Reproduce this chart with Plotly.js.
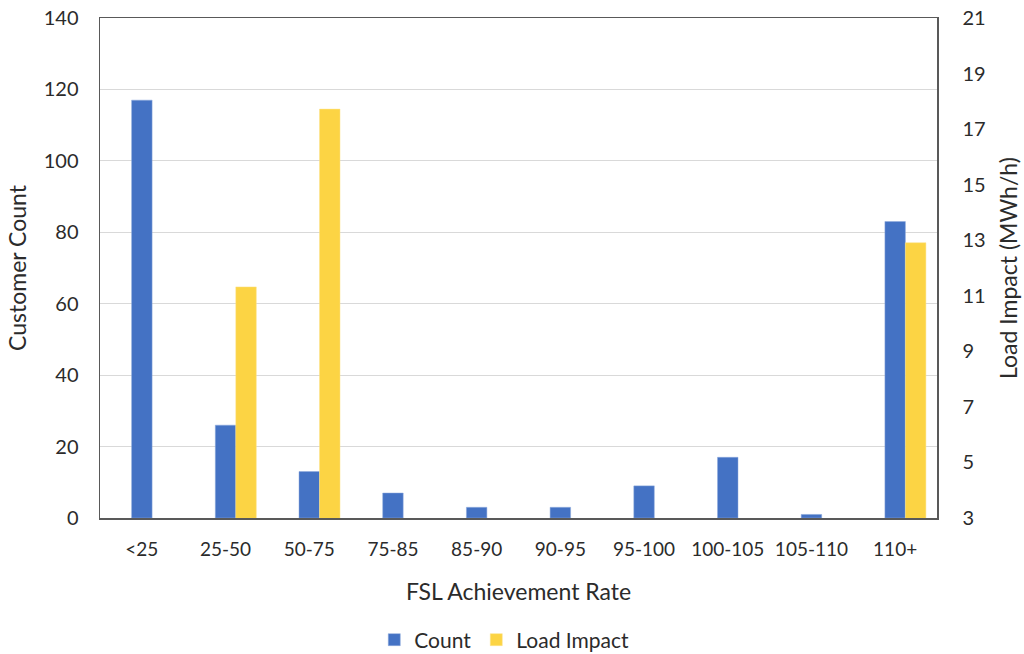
<!DOCTYPE html>
<html>
<head>
<meta charset="utf-8">
<script src="https://cdn.plot.ly/plotly-3.0.1.min.js"></script>
<style>html,body{margin:0;padding:0;background:#fff}#chart{width:1024px;height:654px}</style>
</head>
<body>
<div id="chart"></div>
<script>
const categories = ["<25","25-50","50-75","75-85","85-90","90-95","95-100","100-105","105-110","110+"];
const countValues = [117, 26, 13, 7, 3, 3, 9, 17, 1, 83];
const loadImpactValues = [2.95, 11.32, 17.72, 2.95, 2.95, 2.95, 2.95, 2.95, 2.95, 12.91];
const leftTicks = [0,20,40,60,80,100,120,140];
const rightTicks = [3,5,7,9,11,13,15,17,19,21];

const FAM = "Lato, 'Open Sans', sans-serif";
const TXT = "#2b2b2b";

const traces = [
  {type:"bar", name:"Count", x:categories, y:countValues, marker:{color:"#4472C4", line:{color:"#8FAADC", width:0.5}},
   width:0.245, offset:-0.1225, xaxis:"x", yaxis:"y"},
  {type:"bar", name:"Load Impact", x:categories, y:loadImpactValues, marker:{color:"#FCD444", line:{color:"#FDE38A", width:0.5}},
   width:0.245, offset:0.1225, xaxis:"x", yaxis:"y2"}
];

const layout = {
  width:1024, height:654,
  margin:{l:100, r:87, t:18, b:136, autoexpand:false},
  paper_bgcolor:"#fff", plot_bgcolor:"#fff",
  font:{family:FAM, size:19, color:TXT},
  barmode:"overlay",
  showlegend:true,
  legend:{orientation:"h", x:0.483, xanchor:"center", y:-0.244, yanchor:"middle", font:{family:FAM, size:21, color:TXT}},
  xaxis:{type:"category", automargin:false, showline:true, mirror:true, linecolor:"#595959", linewidth:1.5, ticks:"", showgrid:false,
         ticklabelstandoff:14,
         tickfont:{family:FAM, size:19, color:TXT},
         title:{text:"FSL Achievement Rate", font:{family:FAM, size:23, color:TXT}, standoff:24}},
  yaxis:{range:[0,140], automargin:false, tickvals:leftTicks, showline:true, linecolor:"#595959", linewidth:1.5, ticks:"",
         gridcolor:"#D9D9D9", gridwidth:1, zeroline:false, ticklabelstandoff:16,
         tickfont:{family:FAM, size:20, color:TXT},
         title:{text:"Customer Count", font:{family:FAM, size:23, color:TXT}, standoff:10}},
  yaxis2:{range:[3,21], automargin:false, overlaying:"y", side:"right", tickvals:rightTicks,
          showline:true, linecolor:"#595959", linewidth:1.5, ticks:"", showgrid:false, zeroline:false, ticklabelstandoff:20,
          tickfont:{family:FAM, size:20, color:TXT},
          title:{text:"Load Impact (MWh/h)", font:{family:FAM, size:23, color:TXT}, standoff:16}}
};

Plotly.newPlot("chart", traces, layout, {displayModeBar:false, staticPlot:true});
</script>
</body>
</html>
